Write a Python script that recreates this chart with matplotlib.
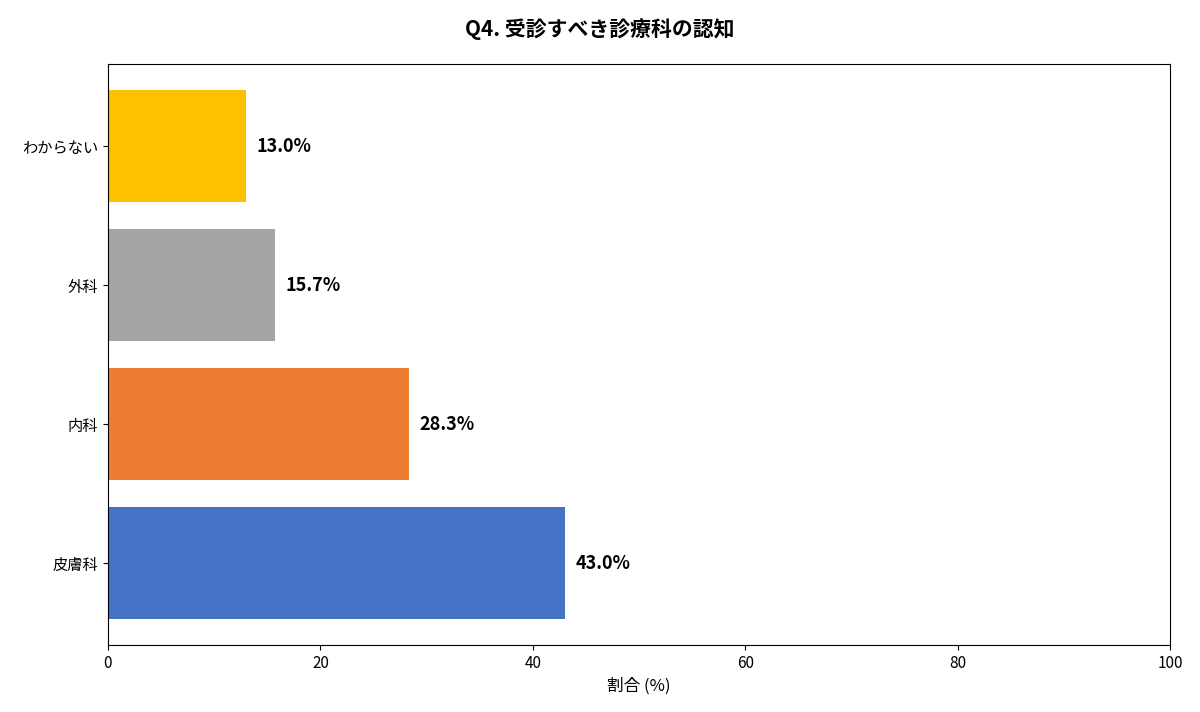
import matplotlib.pyplot as plt

plt.rcParams['font.family'] = ['Noto Sans CJK JP', 'DejaVu Sans']

categories = ["皮膚科", "内科", "外科", "わからない"]
values = [43.0, 28.3, 15.7, 13.0]
colors = ["#4472C4", "#ED7D31", "#A5A5A5", "#FFC000"]

fig = plt.figure(figsize=(12, 7.12), dpi=100)
ax = fig.add_axes([0.09, 0.094, 0.885, 0.816])

bars = ax.barh(categories, values, color=colors, height=0.8)
for b, v in zip(bars, values):
    ax.text(v + 1, b.get_y() + b.get_height() / 2, f"{v:.1f}%",
            va="center", ha="left", fontsize=13, fontweight="bold")

ax.set_xlim(0, 100)
ax.set_xlabel("割合 (%)", fontsize=12)
ax.tick_params(axis="x", labelsize=11)
ax.tick_params(axis="y", labelsize=11)
fig.suptitle("Q4. 受診すべき診療科の認知", fontsize=15, fontweight="bold", y=0.975)

fig.savefig("out.png", dpi=100)
